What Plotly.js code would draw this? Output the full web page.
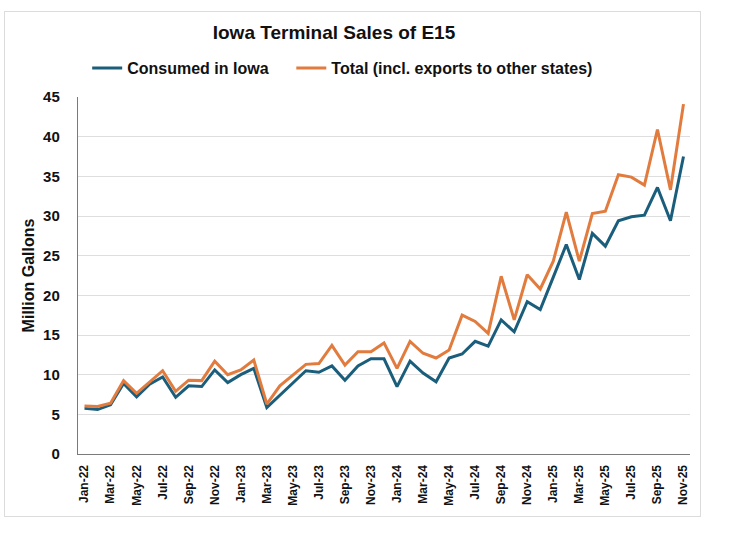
<!DOCTYPE html>
<html>
<head>
<meta charset="utf-8">
<script src="https://cdn.plot.ly/plotly-3.0.1.min.js"></script>
<style>
html,body{margin:0;padding:0;background:#fff;}
#frame{position:absolute;left:4px;top:11px;width:697px;height:506px;border:1px solid #dcdcdc;box-sizing:border-box;}
#chart{position:absolute;left:0;top:0;width:739px;height:534px;}
</style>
</head>
<body>
<div id="frame"></div>
<div id="chart"></div>
<script>
const months = ["Jan-22","Feb-22","Mar-22","Apr-22","May-22","Jun-22","Jul-22","Aug-22","Sep-22","Oct-22","Nov-22","Dec-22",
"Jan-23","Feb-23","Mar-23","Apr-23","May-23","Jun-23","Jul-23","Aug-23","Sep-23","Oct-23","Nov-23","Dec-23",
"Jan-24","Feb-24","Mar-24","Apr-24","May-24","Jun-24","Jul-24","Aug-24","Sep-24","Oct-24","Nov-24","Dec-24",
"Jan-25","Feb-25","Mar-25","Apr-25","May-25","Jun-25","Jul-25","Aug-25","Sep-25","Oct-25","Nov-25"];

const consumedInIowa = [5.75,5.6,6.2,8.9,7.2,8.8,9.7,7.15,8.6,8.5,10.6,9.0,
10.0,10.8,5.85,7.4,8.9,10.5,10.3,11.1,9.3,11.1,12.0,12.0,
8.5,11.7,10.2,9.1,12.1,12.6,14.2,13.6,16.9,15.4,19.2,18.2,
22.3,26.4,22.0,27.8,26.2,29.4,29.9,30.1,33.6,29.4,37.5];

const totalInclExports = [6.05,6.0,6.4,9.25,7.65,9.1,10.5,7.9,9.3,9.25,11.7,10.0,
10.6,11.85,6.3,8.6,10.0,11.3,11.4,13.7,11.2,12.9,12.9,14.0,
10.8,14.2,12.7,12.1,13.1,17.5,16.7,15.2,22.4,16.9,22.6,20.8,
24.3,30.5,24.3,30.3,30.6,35.2,34.9,33.9,40.9,33.3,44.1];

const seriesNames = ["Consumed in Iowa","Total (incl. exports to other states)"];
const yTicks = [0,5,10,15,20,25,30,35,40,45];
const xTickLabels = months.filter((m,i)=> i%2===0);

const FONT = "Liberation Sans, Arial, sans-serif";
const PAD = "\u00a0\u00a0\u00a0\u00a0";

const traces = [
  {x: months, y: consumedInIowa, name: seriesNames[0] + PAD, type: "scatter", mode: "lines",
   line: {color: "#1b5e7c", width: 3}},
  {x: months, y: totalInclExports, name: seriesNames[1], type: "scatter", mode: "lines",
   line: {color: "#e27b3e", width: 3}}
];

const layout = {
  width: 739, height: 534,
  paper_bgcolor: "rgba(0,0,0,0)", plot_bgcolor: "rgba(0,0,0,0)",
  margin: {l: 78, r: 49, t: 97, b: 80},
  font: {family: FONT, color: "#000"},
  title: {text: "<b>Iowa Terminal Sales of E15</b>", x: 334/739, xanchor: "center", y: 1 - 32/534, yanchor: "middle",
          font: {size: 19, family: FONT, color: "#111"}},
  showlegend: true,
  legend: {orientation: "h", x: 0.015, xanchor: "left", y: 1 - 68/534, yref: "container", yanchor: "middle",
           font: {size: 16, family: FONT, color: "#111", weight: "bold"}, itemwidth: 30, tracegroupgap: 0},
  xaxis: {
    type: "category", range: [-0.5, months.length - 0.5],
    tickmode: "array", tickvals: xTickLabels, ticktext: xTickLabels.map(t=>"<b>"+t+"</b>"),
    tickangle: -90, tickfont: {size: 12, family: FONT, color: "#111"},
    showgrid: false, showline: true, linecolor: "#7a7a7a", linewidth: 1.2,
    ticks: "", zeroline: false, ticklabelstandoff: 5
  },
  yaxis: {
    range: [0, 45], tickmode: "array", tickvals: yTicks, ticktext: yTicks.map(v=>"<b>"+v+"</b>"),
    tickfont: {size: 15, family: FONT, color: "#111"},
    showgrid: true, gridcolor: "#dedede", gridwidth: 1,
    showline: true, linecolor: "#7a7a7a", linewidth: 1.2, zeroline: false,
    ticks: "", ticklabelstandoff: 14,
    title: {text: "<b>Million Gallons</b>", font: {size: 16, family: FONT, color: "#111"}, standoff: 4}
  }
};

Plotly.newPlot("chart", traces, layout, {displayModeBar: false, staticPlot: true});
</script>
</body>
</html>
